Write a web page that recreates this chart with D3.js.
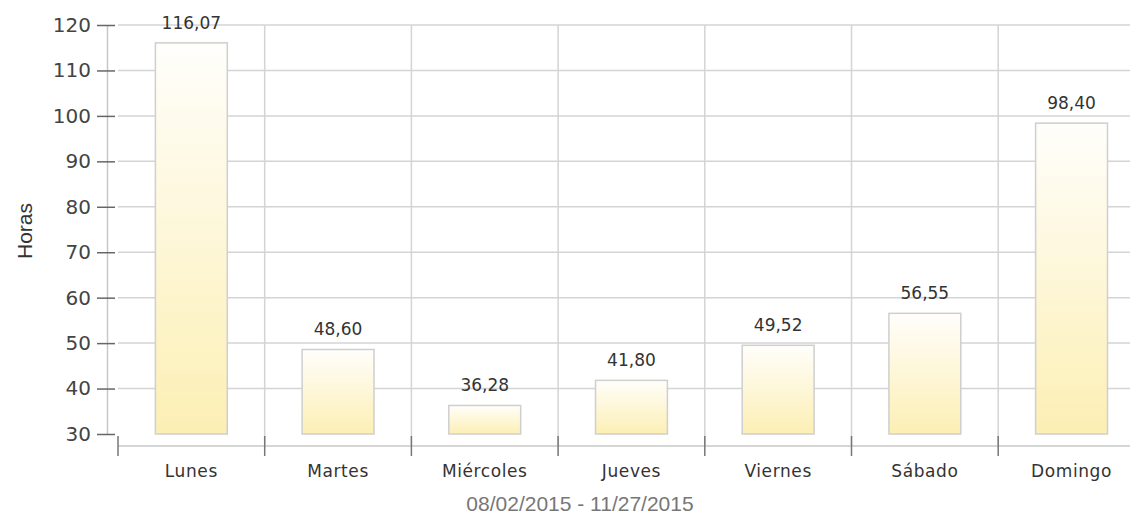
<!DOCTYPE html>
<head>
    <meta charset="utf-8">
    <script src="https://d3js.org/d3.v7.min.js"></script>
    <style>
        body { margin: 0; background: #fff; }
        svg text { font-family: "DejaVu Sans", Verdana, sans-serif; }
    </style>
</head>
<body>
    <script>
        // data
        const dias = ['Lunes', 'Martes', 'Miércoles', 'Jueves', 'Viernes', 'Sábado', 'Domingo']
        const horas = [116.07, 48.60, 36.28, 41.80, 49.52, 56.55, 98.40]
        const yTicks = [30, 40, 50, 60, 70, 80, 90, 100, 110, 120]
        const rango = '08/02/2015 - 11/27/2015'

        const width = 1130
        const height = 515
        const svg = d3.select('body').append('svg').attr('width', width).attr('height', height)

        const x = d3.scaleBand().domain(dias).range([118, 118 + 7 * 146.7]).padding(0)
        const y = d3.scaleLinear().domain([30, 120]).range([434, 25])

        const defs = svg.append('defs')
        const grad = defs.append('linearGradient').attr('id', 'barra')
            .attr('x1', 0).attr('y1', 0).attr('x2', 0).attr('y2', 1)
        grad.append('stop').attr('offset', '0%').attr('stop-color', '#fffefb')
        grad.append('stop').attr('offset', '100%').attr('stop-color', '#fcefb4')

        // horizontal grid
        svg.append('g').selectAll('line').data(yTicks.slice(1)).join('line')
            .attr('x1', 118).attr('x2', width)
            .attr('y1', d => y(d)).attr('y2', d => y(d))
            .attr('stroke', '#d4d4d4').attr('stroke-width', 1.5)

        // vertical grid at category boundaries
        const limites = dias.slice(1).map(d => x(d))
        svg.append('g').selectAll('line').data(limites).join('line')
            .attr('x1', d => d).attr('x2', d => d)
            .attr('y1', y(120)).attr('y2', 446)
            .attr('stroke', '#d4d4d4').attr('stroke-width', 1.5)

        // y axis
        const axisY = d3.axisLeft(y).tickValues(yTicks).tickSize(0).tickPadding(16)
        const gy = svg.append('g').attr('transform', 'translate(107,0)').call(axisY)
        gy.select('.domain').attr('stroke', '#c8c8c8').attr('stroke-width', 1.5)
        gy.selectAll('.tick text').attr('font-size', 20).attr('fill', '#444')
            .attr('font-family', '"DejaVu Sans", Verdana, sans-serif')
        gy.selectAll('.tick').append('line')
            .attr('x1', -10).attr('x2', 8).attr('stroke', '#666').attr('stroke-width', 1.5)

        // x axis
        svg.append('line').attr('x1', 118).attr('x2', width).attr('y1', 446).attr('y2', 446)
            .attr('stroke', '#c8c8c8').attr('stroke-width', 1.5)
        svg.append('g').selectAll('line').data([118].concat(limites)).join('line')
            .attr('x1', d => d).attr('x2', d => d).attr('y1', 436).attr('y2', 456)
            .attr('stroke', '#777').attr('stroke-width', 1.5)

        // bars
        const bw = x.bandwidth() * 0.49
        svg.append('g').selectAll('rect').data(horas).join('rect')
            .attr('x', (d, i) => x(dias[i]) + (x.bandwidth() - bw) / 2)
            .attr('y', d => y(d))
            .attr('width', bw)
            .attr('height', d => y(30) - y(d))
            .attr('fill', 'url(#barra)')
            .attr('stroke', '#cfcfcf').attr('stroke-width', 1.5)

        // value labels
        svg.append('g').selectAll('text').data(horas).join('text')
            .attr('x', (d, i) => x(dias[i]) + x.bandwidth() / 2)
            .attr('y', d => y(d) - 14)
            .attr('text-anchor', 'middle').attr('font-size', 17).attr('fill', '#333')
            .text(d => d.toFixed(2).replace('.', ','))

        // category labels
        svg.append('g').selectAll('text').data(dias).join('text')
            .attr('x', d => x(d) + x.bandwidth() / 2)
            .attr('y', 477)
            .attr('text-anchor', 'middle').attr('font-size', 17).attr('fill', '#333')
            .attr('letter-spacing', 0.6)
            .text(d => d)

        svg.append('text')
            .attr('transform', 'translate(32,231) rotate(-90)')
            .attr('text-anchor', 'middle').attr('font-size', 21).attr('fill', '#333')
            .style('font-family', '"Liberation Sans", Arial, sans-serif')
            .text('Horas')

        svg.append('text')
            .attr('x', 580).attr('y', 511)
            .attr('text-anchor', 'middle').attr('font-size', 21).attr('fill', '#777')
            .style('font-family', '"Liberation Sans", Arial, sans-serif')
            .text(rango)
    </script>
</body>
